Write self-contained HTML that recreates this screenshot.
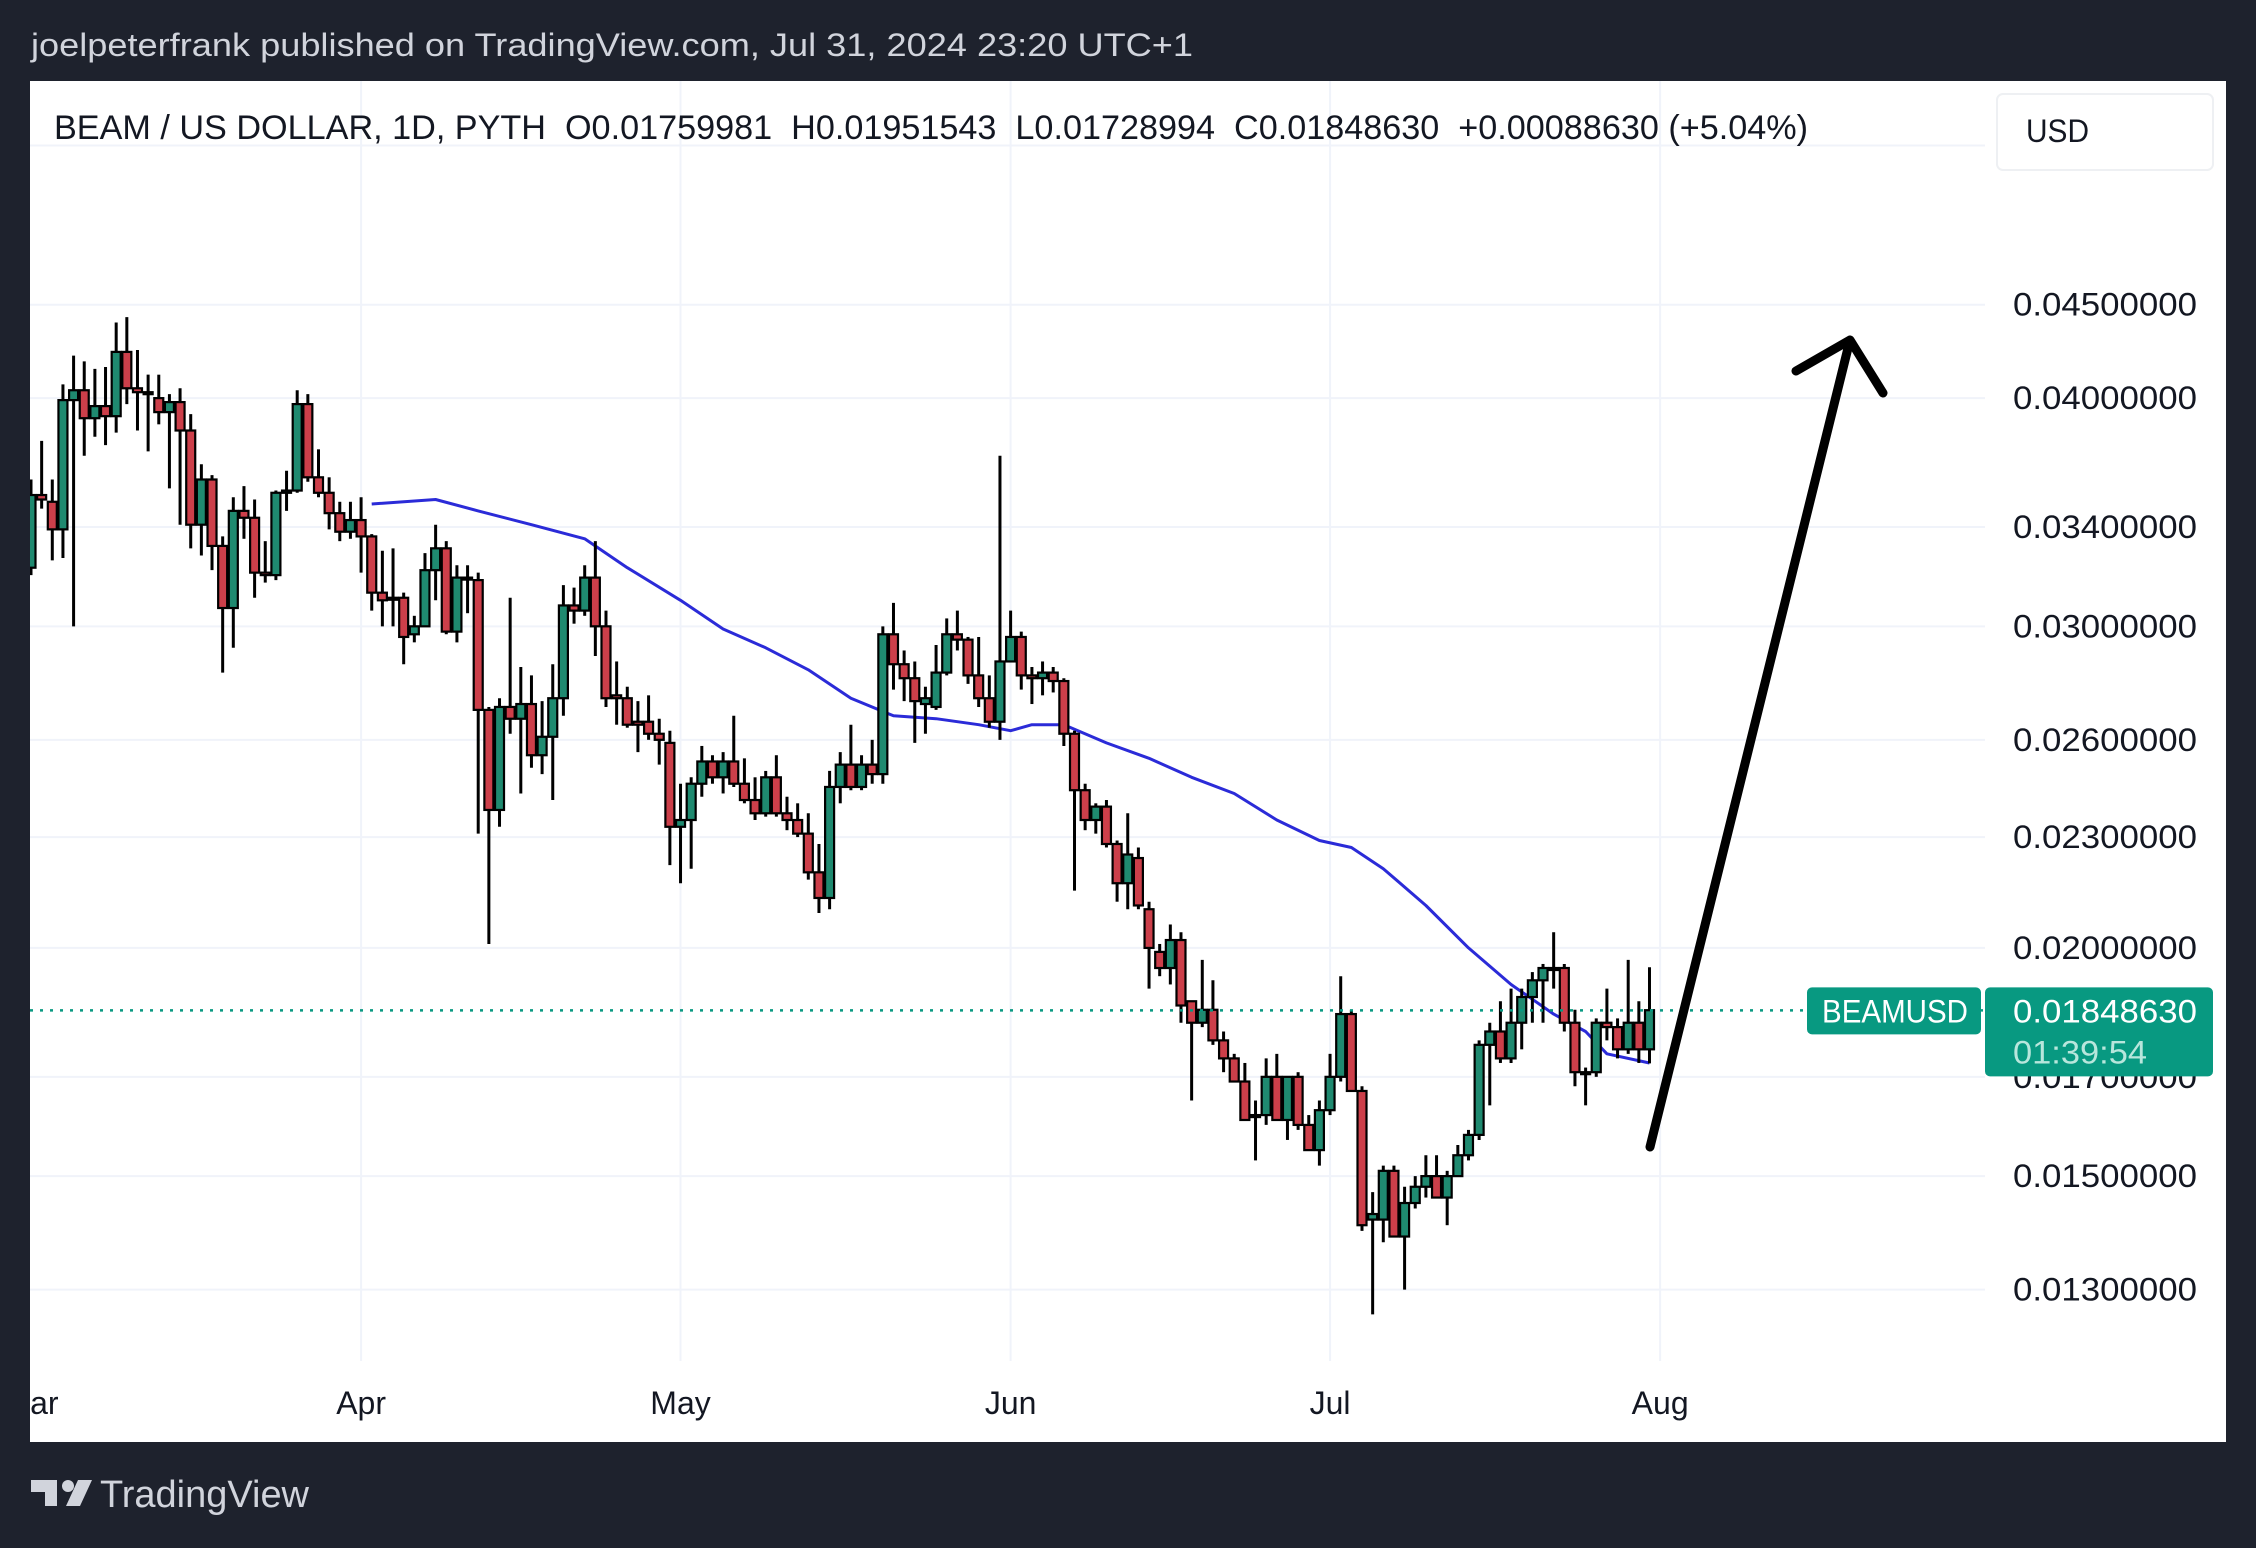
<!DOCTYPE html>
<html><head><meta charset="utf-8">
<style>
html,body{margin:0;padding:0;background:#1e222d;}
svg{display:block;}
text{font-family:"Liberation Sans",sans-serif;white-space:pre;}
</style></head>
<body>
<svg id="chart" width="2256" height="1548" viewBox="0 0 2256 1548" xmlns="http://www.w3.org/2000/svg">
  <rect x="0" y="0" width="2256" height="1548" fill="#1e222d"/>
  <text x="31" y="56" font-size="32" fill="#d1d4dc" textLength="1162" lengthAdjust="spacingAndGlyphs">joelpeterfrank published on TradingView.com, Jul 31, 2024 23:20 UTC+1</text>
  <rect x="30" y="81" width="2196" height="1361" fill="#ffffff"/>
  <defs><clipPath id="plotclip"><rect x="30" y="81" width="1955" height="1280"/></clipPath></defs>
  <g id="grid"></g>
  <g id="plot" clip-path="url(#plotclip)"></g>
  <g id="yaxis"></g>
  <g id="xaxis"></g>
  <path d="M1650 1147 L1850 340 M1796 371 L1850 340 L1883 393" stroke="#000" stroke-width="9" fill="none" stroke-linecap="round" stroke-linejoin="round"/>
  <text x="54" y="139" font-size="34" fill="#131722" textLength="1754" lengthAdjust="spacingAndGlyphs" xml:space="preserve">BEAM / US DOLLAR, 1D, PYTH  O0.01759981  H0.01951543  L0.01728994  C0.01848630  +0.00088630 (+5.04%)</text>
  <rect x="1997" y="94" width="216" height="76" rx="6" fill="#ffffff" stroke="#eef0f3" stroke-width="2"/>
  <text x="2026" y="142" font-size="32" fill="#131722" textLength="63" lengthAdjust="spacingAndGlyphs">USD</text>
  <g>
    <path d="M31 1480 h26 v26 h-12 v-14 h-14 z" fill="#d1d4dc"/>
    <circle cx="68" cy="1486" r="6" fill="#d1d4dc"/>
    <path d="M78 1480 h14 l-12 26 h-14 z" fill="#d1d4dc"/>
    <text x="100" y="1507" font-size="38" fill="#d1d4dc" textLength="209" lengthAdjust="spacingAndGlyphs">TradingView</text>
  </g>
</svg>
<script>
const opens=[.0323,.0354,.0351,.0339,.0399,.0404,.0390,.0396,.0391,.0424,.0405,.0403,.0400,.0393,.0398,.0384,.0341,.0361,.0332,.0307,.0347,.0344,.0321,.0320,.0355,.0356,.0397,.0362,.0355,.0346,.0338,.0343,.0336,.0313,.0311,.0311,.0297,.0300,.0322,.0331,.0298,.0319,.0318,.0270,.0238,.0271,.0267,.0272,.0255,.0261,.0274,.0308,.0306,.0319,.0300,.0275,.0274,.0266,.0266,.0262,.0259,.0233,.0235,.0246,.0253,.0248,.0253,.0246,.0241,.0237,.0248,.0237,.0235,.0231,.0220,.0213,.0245,.0252,.0245,.0252,.0249,.0297,.0286,.0281,.0272,.0271,.0283,.0297,.0295,.0282,.0274,.0266,.0287,.0296,.0282,.0281,.0283,.0280,.0262,.0244,.0235,.0239,.0228,.0217,.0224,.0210,.0199,.0195,.0202,.0187,.0182,.0185,.0178,.0174,.0169,.0162,.0162,.0170,.0161,.0170,.0160,.0155,.0163,.0170,.0184,.0167,.0142,.0142,.0151,.0139,.0145,.0148,.0150,.0146,.0150,.0154,.0158,.0177,.0180,.0174,.0182,.0188,.0192,.0195,.0195,.0182,.0171,.0171,.0182,.0181,.0176,.0182,.01760];
const highs=[.0361,.0379,.0361,.0407,.0422,.0419,.0415,.0416,.0440,.0443,.0425,.0412,.0412,.0402,.0405,.0392,.0368,.0363,.0336,.0353,.0358,.0352,.0334,.0356,.0365,.0404,.0402,.0375,.0362,.0351,.0351,.0353,.0337,.0330,.0331,.0313,.0304,.0329,.0341,.0334,.0324,.0324,.0321,.0271,.0274,.0311,.0285,.0282,.0273,.0286,.0316,.0315,.0324,.0334,.0306,.0287,.0278,.0273,.0275,.0267,.0263,.0246,.0248,.0258,.0255,.0256,.0268,.0254,.0248,.0250,.0255,.0242,.0240,.0237,.0228,.0250,.0256,.0265,.0255,.0260,.0300,.0309,.0291,.0287,.0278,.0293,.0303,.0306,.0296,.0296,.0282,.0372,.0306,.0298,.0285,.0287,.0285,.0281,.0263,.0246,.0240,.0241,.0229,.0237,.0227,.0212,.0201,.0206,.0204,.0187,.0197,.0192,.0180,.0175,.0173,.0165,.0174,.0175,.0170,.0171,.0162,.0165,.0175,.0193,.0185,.0168,.0147,.0152,.0152,.0148,.0150,.0154,.0154,.0151,.0156,.0159,.0178,.0182,.0187,.0190,.0190,.0194,.0196,.0204,.0196,.0185,.0172,.0183,.0190,.0183,.0197,.0187,.01952];
const lows=[.0320,.0348,.0326,.0327,.0300,.0372,.0381,.0377,.0383,.0397,.0384,.0374,.0387,.0357,.0341,.0331,.0328,.0322,.0283,.0292,.0335,.0311,.0317,.0318,.0347,.0355,.0360,.0353,.0339,.0334,.0335,.0321,.0306,.0300,.0300,.0286,.0294,.0300,.0310,.0297,.0294,.0305,.0231,.0201,.0233,.0262,.0243,.0251,.0249,.0241,.0268,.0301,.0304,.0289,.0271,.0265,.0264,.0256,.0260,.0252,.0222,.0217,.0221,.0242,.0246,.0243,.0245,.0240,.0235,.0236,.0236,.0232,.0230,.0218,.0209,.0210,.0240,.0244,.0244,.0246,.0246,.0277,.0273,.0259,.0262,.0270,.0282,.0291,.0279,.0271,.0264,.0260,.0287,.0277,.0272,.0275,.0276,.0258,.0215,.0232,.0231,.0227,.0212,.0210,.0210,.0190,.0193,.0191,.0182,.0165,.0181,.0177,.0171,.0169,.0161,.0153,.0160,.0161,.0157,.0159,.0155,.0152,.0162,.0169,.0167,.0140,.0126,.0138,.0139,.0130,.0144,.0146,.0146,.0141,.0150,.0153,.0157,.0164,.0173,.0173,.0176,.0182,.0182,.0190,.0180,.0168,.0164,.0170,.0178,.0174,.0175,.0173,.01729];
const closes=[.0354,.0352,.0339,.0399,.0404,.0390,.0396,.0391,.0424,.0405,.0403,.0402,.0393,.0398,.0384,.0341,.0361,.0332,.0307,.0347,.0344,.0321,.0320,.0355,.0356,.0397,.0362,.0355,.0346,.0338,.0343,.0336,.0313,.0310,.0311,.0296,.0300,.0322,.0331,.0298,.0319,.0319,.0270,.0238,.0271,.0267,.0272,.0255,.0261,.0274,.0308,.0306,.0319,.0300,.0274,.0274,.0265,.0265,.0262,.0260,.0233,.0235,.0246,.0253,.0248,.0253,.0246,.0241,.0237,.0248,.0237,.0235,.0231,.0220,.0213,.0245,.0252,.0245,.0252,.0249,.0297,.0286,.0281,.0273,.0274,.0283,.0297,.0295,.0282,.0274,.0266,.0287,.0296,.0282,.0281,.0283,.0280,.0262,.0244,.0235,.0239,.0228,.0217,.0225,.0211,.0200,.0195,.0202,.0186,.0182,.0185,.0178,.0174,.0169,.0161,.0162,.0170,.0161,.0170,.0160,.0155,.0163,.0170,.0184,.0167,.0141,.0143,.0151,.0139,.0145,.0148,.0150,.0146,.0150,.0154,.0158,.0177,.0180,.0174,.0182,.0188,.0192,.0195,.0195,.0182,.0171,.0171,.0182,.0181,.0176,.0182,.0176,.01849];
const maDays=[32,38,42,47,52,56,61,65,69,73,77,81,85,89,92,94,97,101,105,109,113,117,121,124,127,131,135,139,143,146,148,152];
const maValues=[.0350,.0352,.0347,.0341,.0335,.0323,.0310,.0299,.0292,.0284,.0274,.0268,.0267,.0265,.0263,.0265,.0265,.0259,.0254,.0248,.0243,.0235,.0229,.0227,.0221,.0211,.0200,.0191,.0184,.0180,.0175,.0173];
const priceTicks=[0.045,0.040,0.034,0.030,0.026,0.023,0.020,0.017,0.015,0.013];
const priceTickLabels=["0.04500000","0.04000000","0.03400000","0.03000000","0.02600000","0.02300000","0.02000000","0.01700000","0.01500000","0.01300000"];
const extraGridPrices=[0.055];
const monthLabels=["Mar","Apr","May","Jun","Jul","Aug"];
const monthDays=[0,31,61,92,122,153];
const lastPrice=0.0184863;

const NS="http://www.w3.org/2000/svg";
function yOf(p){return 304.7+Math.log(0.045/p)*793.2;}
function xOf(i){return 31+10.648*i;}
function mk(tag,attrs,parent){const e=document.createElementNS(NS,tag);for(const k in attrs)e.setAttribute(k,attrs[k]);parent.appendChild(e);return e;}
const grid=document.getElementById('grid'),plot=document.getElementById('plot'),yaxis=document.getElementById('yaxis'),xaxis=document.getElementById('xaxis');

priceTicks.concat(extraGridPrices).forEach(p=>{
  const l=mk('line',{x1:30,x2:1985,y1:yOf(p),y2:yOf(p),stroke:'#f0f3fa','stroke-width':2},grid);
  
  
});
monthDays.forEach((d,k)=>{
  if(k===0)return;
  const l=mk('line',{x1:xOf(d),x2:xOf(d),y1:81,y2:1361,stroke:'#f0f3fa','stroke-width':2},grid);
  
  
});

let d='';
maDays.forEach((day,k)=>{d+=(k?'L':'M')+xOf(day).toFixed(1)+' '+yOf(maValues[k]).toFixed(1)+' ';});
const ma=mk('path',{d:d,stroke:'#2b2bd8','stroke-width':3,fill:'none','stroke-linejoin':'round'},plot);



closes.forEach((c,i)=>{
  const o=opens[i],h=highs[i],lo=lows[i],x=xOf(i);
  const g=mk('g',{},plot);
  
  
  mk('line',{x1:x,x2:x,y1:yOf(h),y2:yOf(lo),stroke:'#000','stroke-width':3},g);
  const top=yOf(Math.max(o,c)),bot=yOf(Math.min(o,c));
  mk('rect',{x:x-4.5,y:top,width:9,height:Math.max(bot-top,2),fill:c>=o?'#1f8a70':'#cc3f4a',stroke:'#000','stroke-width':2.2},g);
});

const lp=mk('line',{x1:30,x2:1985,y1:yOf(lastPrice),y2:yOf(lastPrice),stroke:'#089981','stroke-width':2.5,'stroke-dasharray':'3 7'},plot);



priceTicks.forEach((p,k)=>{
  const t=mk('text',{x:2013,y:yOf(p)+11,'font-size':32,fill:'#131722',textLength:184,lengthAdjust:'spacingAndGlyphs'},yaxis);
  t.textContent=priceTickLabels[k];
  
  
});
monthLabels.forEach((m,k)=>{
  const t=mk('text',{x:xOf(monthDays[k]),y:1414,'font-size':32,fill:'#131722','text-anchor':'middle'},xaxis);
  t.textContent=m;
  
  
});
const cover=mk('rect',{x:0,y:1380,width:30,height:50,fill:'#1e222d'},xaxis);



const ly=yOf(lastPrice);
const tag1=mk('rect',{x:1807,y:ly-23,width:174,height:47,rx:5,fill:'#089981'},yaxis);


const t1=mk('text',{x:1822,y:ly+12,'font-size':32,fill:'#ffffff',textLength:146,lengthAdjust:'spacingAndGlyphs'},yaxis);
t1.textContent='BEAMUSD';


const tag2=mk('rect',{x:1985,y:ly-23,width:228,height:89,rx:5,fill:'#089981'},yaxis);


const t2=mk('text',{x:2013,y:ly+12,'font-size':32,fill:'#ffffff',textLength:184,lengthAdjust:'spacingAndGlyphs'},yaxis);
t2.textContent='0.01848630';


const t3=mk('text',{x:2013,y:ly+53,'font-size':32,fill:'#b8e6dc',textLength:134,lengthAdjust:'spacingAndGlyphs'},yaxis);
t3.textContent='01:39:54';


</script>
</body></html>
